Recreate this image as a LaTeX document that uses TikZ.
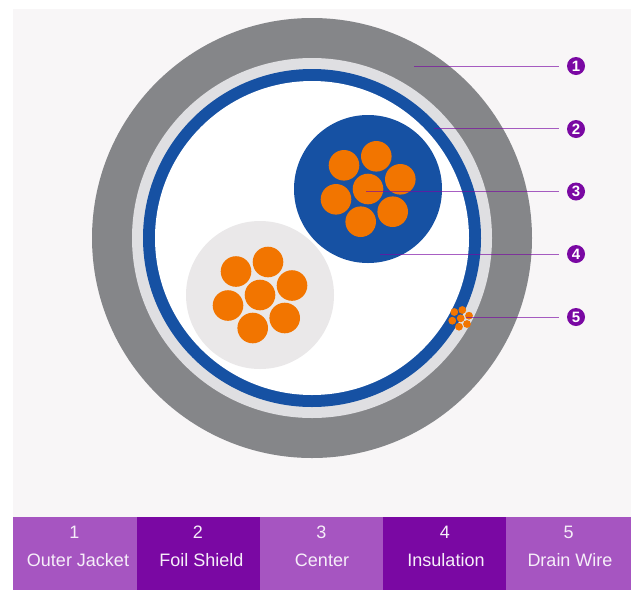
\documentclass[tikz,border=0pt]{standalone}
\usepackage{fontspec}
\setmainfont{Liberation Sans}
\usepackage{tikz}
\definecolor{panelbg}{HTML}{F8F6F7}
\definecolor{jacketgray}{HTML}{858689}
\definecolor{wrapgray}{HTML}{DFDFE2}
\definecolor{shieldblue}{HTML}{1651A3}
\definecolor{coreorange}{HTML}{F27500}
\definecolor{coregray}{HTML}{EAE8E9}
\definecolor{darkpurple}{HTML}{7A08A3}
\definecolor{lightpurple}{HTML}{A655C1}

\begin{document}
\begin{tikzpicture}[
			x=1pt,
			y=-1pt,
			leader/.style={draw=darkpurple, line width=1pt, opacity=0.65, shorten >=8pt},
			badge/.style={circle, fill=darkpurple, text=white, minimum size=18pt, inner sep=0pt, font=\fontsize{15}{15}\selectfont\bfseries},
			barcell/.style={anchor=north west, minimum height=73.5pt, inner sep=0pt},
			barlabel/.style={text=white!90!lightpurple, font=\fontsize{18}{18}\selectfont},
			strand/.style={fill=coreorange}
		]
		\useasboundingbox (0,0) rectangle (637,590);
		\fill[panelbg] (13,9) rectangle (631,517);

		% cable layers
		\fill[jacketgray] (312,238) circle (220);
		\fill[wrapgray] (312,238) circle (180);
		\fill[shieldblue] (312,238) circle (169);
		\fill[white] (312,238) circle (157);

		% conductor with insulation
		\fill[shieldblue] (368,189) circle (74);
		\fill[strand] (368,189) circle (15.3);
		\fill[strand] (376.3,156.3) circle (15.3);
		\fill[strand] (400.3,179.3) circle (15.3);
		\fill[strand] (392.7,211.7) circle (15.3);
		\fill[strand] (360.7,221.7) circle (15.3);
		\fill[strand] (336,199.3) circle (15.3);
		\fill[strand] (344,165.3) circle (15.3);

		% second conductor
		\fill[coregray] (260,295) circle (74);
		\fill[strand] (260,295) circle (15.3);
		\fill[strand] (268,262) circle (15.3);
		\fill[strand] (292,285.5) circle (15.3);
		\fill[strand] (284.7,318) circle (15.3);
		\fill[strand] (252.7,328) circle (15.3);
		\fill[strand] (228,305.5) circle (15.3);
		\fill[strand] (236,271.5) circle (15.3);

		% drain wire
		\fill[strand] (460.7,318.3) circle (3.9);
		\fill[strand] (462.3,310) circle (3.9);
		\fill[strand] (469,315.7) circle (3.9);
		\fill[strand] (467,324) circle (3.9);
		\fill[strand] (459,326.7) circle (3.9);
		\fill[strand] (452.3,320.7) circle (3.9);
		\fill[strand] (454.3,312) circle (3.9);

		% leaders
		\coordinate (jacketend) at (414,66);
		\coordinate (shieldend) at (434,128.5);
		\coordinate (centerend) at (366,191);
		\coordinate (insulend) at (380,254);
		\coordinate (drainend) at (466,317);
		\node[badge] (badge1) at (576,66) {1};
		\node[badge] (badge2) at (576,129) {2};
		\node[badge] (badge3) at (576,191.5) {3};
		\node[badge] (badge4) at (576,254) {4};
		\node[badge] (badge5) at (576,317) {5};
		\draw[leader] (jacketend) -- (jacketend -| badge1.west);
		\draw[leader] (shieldend) -- (shieldend -| badge2.west);
		\draw[leader] (centerend) -- (centerend -| badge3.west);
		\draw[leader] (insulend) -- (insulend -| badge4.west);
		\draw[leader] (drainend) -- (drainend -| badge5.west);

		% legend bar
		\node[barcell, fill=lightpurple, minimum width=124pt] (cell1) at (13,516.5) {};
		\node[barcell, fill=darkpurple, minimum width=123pt] (cell2) at (137,516.5) {};
		\node[barcell, fill=lightpurple, minimum width=123pt] (cell3) at (260,516.5) {};
		\node[barcell, fill=darkpurple, minimum width=123pt] (cell4) at (383,516.5) {};
		\node[barcell, fill=lightpurple, minimum width=125pt] (cell5) at (506,516.5) {};
		\node[barlabel] (num1) at (74.5,532) {1};
		\node[barlabel] (num2) at (198,532) {2};
		\node[barlabel] (num3) at (321.5,532) {3};
		\node[barlabel] (num4) at (445,532) {4};
		\node[barlabel] (num5) at (568.5,532) {5};
		\node[barlabel] (name1) at (78,560) {Outer Jacket};
		\node[barlabel] (name2) at (201.5,560) {Foil Shield};
		\node[barlabel] (name3) at (322,560) {Center};
		\node[barlabel] (name4) at (446,560) {Insulation};
		\node[barlabel] (name5) at (570,560) {Drain Wire};
	\end{tikzpicture}
\end{document}
